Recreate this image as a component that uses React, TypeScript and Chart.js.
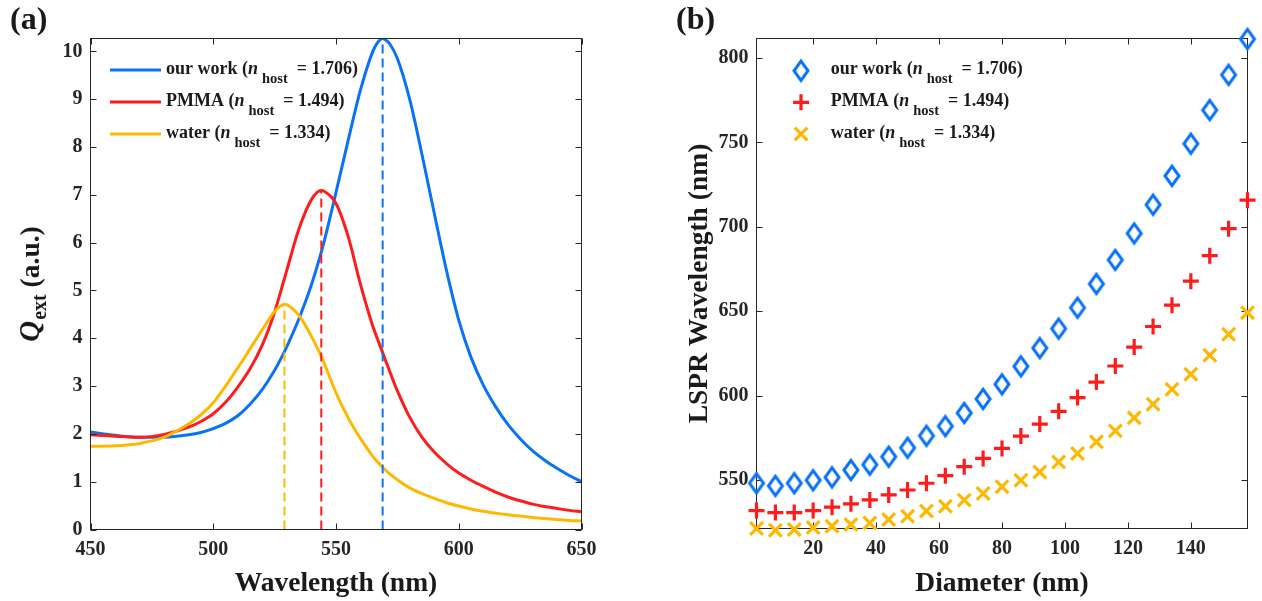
import React, { useEffect, useRef } from 'react';
import { Chart, registerables } from 'chart.js';

Chart.register(...registerables);

const FAMILY = '"Liberation Serif", "Times New Roman", "DejaVu Serif", serif';
const AXIS_COLOR = '#262626';
const TEXT_COLOR = '#1a1a1a';
const BLUE = '#0A72F6';
const RED = '#FF1C1C';
const GOLD = '#FFB800';
const TICK_LEN = 6;

// ---- (a) extinction spectra ----
const wavelength = [
  450, 460, 470, 480, 490, 495, 500, 505, 510, 515, 520, 525, 529, 530, 535, 540, 544, 545, 550, 555,
  560, 565, 567, 569, 570, 572, 575, 580, 585, 590, 595, 600, 605, 610, 615, 620, 625, 630, 635, 640,
  645, 650,
];
const qOurWork = [
  2.04, 1.97, 1.93, 1.93, 1.98, 2.03, 2.11, 2.22, 2.38, 2.62, 2.93, 3.33, 3.72, 3.83, 4.42, 5.12, 5.8, 5.99, 7.05, 8.15,
  9.2, 10.0, 10.19, 10.27, 10.25, 10.15, 9.85, 9.0, 7.85, 6.62, 5.42, 4.38, 3.6, 3.02, 2.57, 2.2, 1.9, 1.65, 1.45, 1.28,
  1.13, 1.0,
];
const qPmma = [
  1.98, 1.95, 1.93, 1.99, 2.14, 2.26, 2.42, 2.66, 2.98, 3.36, 3.86, 4.55, 5.25, 5.43, 6.3, 6.9, 7.09, 7.08, 6.82, 6.12,
  5.12, 4.25, 3.97, 3.7, 3.56, 3.29, 2.9, 2.35, 1.93, 1.62, 1.38, 1.18, 1.03, 0.9, 0.78, 0.68, 0.6, 0.53, 0.48, 0.44,
  0.4, 0.37,
];
const qWater = [
  1.74, 1.75, 1.8, 1.93, 2.21, 2.4, 2.65, 3.0, 3.38, 3.78, 4.18, 4.56, 4.71, 4.7, 4.47, 4.04, 3.62, 3.5, 2.86, 2.33,
  1.9, 1.53, 1.41, 1.3, 1.25, 1.16, 1.04, 0.87, 0.75, 0.65, 0.56, 0.49, 0.43, 0.38, 0.34, 0.31, 0.28, 0.25, 0.23, 0.21,
  0.19, 0.18,
];
// resonance peaks (our work, PMMA, water)
const peakWavelength = [569, 544, 529];
const peakQ = [10.27, 7.09, 4.71];
const wavelengthTicks = [450, 500, 550, 600, 650];
const qTicks = [0, 1, 2, 3, 4, 5, 6, 7, 8, 9, 10];

// ---- (b) LSPR wavelength vs diameter ----
const diameter = [2, 8, 14, 20, 26, 32, 38, 44, 50, 56, 62, 68, 74, 80, 86, 92, 98, 104, 110, 116, 122, 128, 134, 140, 146, 152, 158];
const lsprOurWork = [
  548.2, 546.6, 548.2, 550, 551.7, 556, 559.2, 563.9, 569.2, 576.3, 582, 589.8, 598.1, 606.8, 617.4, 628.2, 639.7, 652.1,
  666.2, 680.4, 696.1, 713.1, 730.2, 749.2, 769.1, 790, 811.2,
];
const lsprPmma = [
  532, 530.8, 530.8, 532, 534, 536, 538.3, 541.3, 544.2, 548.2, 552.7, 558, 562.9, 568.8, 576.1, 583.2, 590.8, 598.9,
  608.1, 617.6, 628.8, 641, 653.6, 667.8, 682.9, 698.9, 715.8,
];
const lsprWater = [
  521.4, 520.4, 520.8, 522, 522.8, 523.8, 524.7, 526.7, 528.7, 531.7, 534.6, 538.2, 542.1, 546.1, 550, 554.9, 560.8, 565.8,
  572.7, 579.2, 586.9, 595, 603.8, 612.7, 624, 636.4, 649.2,
];
const diameterTicks = [20, 40, 60, 80, 100, 120, 140];
const lsprTicks = [550, 600, 650, 700, 750, 800];

const seriesNames = ['our work', 'PMMA', 'water'];
const nHost = ['1.706', '1.494', '1.334'];
const seriesColors = [BLUE, RED, GOLD];

const font = (size: number, italic = false) => `${italic ? 'italic ' : ''}bold ${size}px ${FAMILY}`;

type Run = { text: string; font: string; dy?: number; gap?: number };

function runsWidth(ctx: CanvasRenderingContext2D, runs: Run[]) {
  let w = 0;
  for (const r of runs) {
    ctx.font = r.font;
    w += (r.gap || 0) + ctx.measureText(r.text).width;
  }
  return w;
}

function drawRuns(ctx: CanvasRenderingContext2D, runs: Run[], x: number, y: number) {
  let cx = x;
  for (const r of runs) {
    cx += r.gap || 0;
    ctx.font = r.font;
    ctx.fillText(r.text, cx, y + (r.dy || 0));
    cx += ctx.measureText(r.text).width;
  }
}

function legendRuns(i: number): Run[] {
  return [
    { text: `${seriesNames[i]} (`, font: font(18) },
    { text: 'n', font: font(18, true) },
    { text: 'host', font: font(14.5), dy: 9, gap: 4 },
    { text: `= ${nHost[i]})`, font: font(18), gap: 9 },
  ];
}

function drawFrame(chart: any, xTicks: number[], yTicks: number[]) {
  const { ctx, chartArea } = chart;
  const { left, right, top, bottom } = chartArea;
  const xs = chart.scales.x;
  const ys = chart.scales.y;
  ctx.save();
  ctx.strokeStyle = AXIS_COLOR;
  ctx.lineWidth = 1;
  ctx.strokeRect(left, top, right - left, bottom - top);
  ctx.beginPath();
  for (const v of xTicks) {
    const px = Math.round(xs.getPixelForValue(v)) + 0.5;
    ctx.moveTo(px, bottom);
    ctx.lineTo(px, bottom - TICK_LEN);
    ctx.moveTo(px, top);
    ctx.lineTo(px, top + TICK_LEN);
  }
  for (const v of yTicks) {
    const py = Math.round(ys.getPixelForValue(v)) + 0.5;
    ctx.moveTo(left, py);
    ctx.lineTo(left + TICK_LEN, py);
    ctx.moveTo(right, py);
    ctx.lineTo(right - TICK_LEN, py);
  }
  ctx.stroke();
  ctx.restore();
}

function drawRotatedTitle(ctx: CanvasRenderingContext2D, runs: Run[], baseX: number, centerY: number) {
  const w = runsWidth(ctx, runs);
  ctx.save();
  ctx.translate(baseX, centerY);
  ctx.rotate(-Math.PI / 2);
  ctx.textAlign = 'left';
  ctx.textBaseline = 'alphabetic';
  drawRuns(ctx, runs, -w / 2, 0);
  ctx.restore();
}

function drawCenteredTitle(ctx: CanvasRenderingContext2D, text: string, cx: number, baseY: number) {
  ctx.save();
  ctx.font = font(27.5);
  ctx.textAlign = 'center';
  ctx.textBaseline = 'alphabetic';
  ctx.fillText(text, cx, baseY);
  ctx.restore();
}

// tall open diamond used as the "our work" marker
function makeDiamond(color: string) {
  const c = document.createElement('canvas');
  c.width = 22;
  c.height = 28;
  const g = c.getContext('2d')!;
  g.strokeStyle = color;
  g.lineWidth = 3;
  g.lineJoin = 'miter';
  g.beginPath();
  g.moveTo(11, 4.3);
  g.lineTo(18, 14);
  g.lineTo(11, 23.7);
  g.lineTo(4, 14);
  g.closePath();
  g.stroke();
  return c;
}

const tickFont = { family: FAMILY, size: 20, weight: 'bold' as const };

function axisX(min: number, max: number, ticks: number[], height: number) {
  return {
    type: 'linear' as const,
    min,
    max,
    afterBuildTicks: (s: any) => {
      s.ticks = ticks.map((value) => ({ value }));
    },
    afterFit: (s: any) => {
      s.height = height;
    },
    grid: { display: false, drawTicks: false },
    border: { display: false },
    ticks: { font: tickFont, color: AXIS_COLOR, padding: 8, maxRotation: 0, autoSkip: false },
  };
}

function axisY(min: number, max: number, ticks: number[], width: number) {
  return {
    type: 'linear' as const,
    min,
    max,
    afterBuildTicks: (s: any) => {
      s.ticks = ticks.map((value) => ({ value }));
    },
    afterFit: (s: any) => {
      s.width = width;
    },
    grid: { display: false, drawTicks: false },
    border: { display: false },
    ticks: { font: tickFont, color: AXIS_COLOR, padding: 8, autoSkip: false },
  };
}

const CANVAS_W = 631;
const CANVAS_H = 601;

function spectraChart(canvas: HTMLCanvasElement) {
  const curve = (values: number[], color: string) => ({
    data: wavelength.map((x, i) => ({ x, y: values[i] })),
    showLine: true,
    borderColor: color,
    backgroundColor: color,
    borderWidth: 3,
    pointRadius: 0,
    cubicInterpolationMode: 'monotone' as const,
  });
  const marker = (i: number) => ({
    data: [
      { x: peakWavelength[i], y: 0 },
      { x: peakWavelength[i], y: peakQ[i] },
    ],
    showLine: true,
    borderColor: seriesColors[i],
    borderWidth: 2,
    borderDash: [9, 5],
    pointRadius: 0,
  });

  const overlay = {
    id: 'spectraOverlay',
    afterDraw(chart: any) {
      const { ctx } = chart;
      drawFrame(chart, wavelengthTicks, qTicks);
      ctx.save();
      ctx.fillStyle = TEXT_COLOR;
      ctx.textBaseline = 'alphabetic';
      ctx.textAlign = 'left';
      // legend
      for (let i = 0; i < 3; i++) {
        const y = 70 + 32 * i;
        ctx.strokeStyle = seriesColors[i];
        ctx.lineWidth = 3;
        ctx.beginPath();
        ctx.moveTo(110, y);
        ctx.lineTo(161, y);
        ctx.stroke();
        drawRuns(ctx, legendRuns(i), 166, y + 4);
      }
      // panel label
      ctx.font = font(32);
      ctx.fillText('(a)', 10, 29);
      ctx.restore();
      ctx.save();
      ctx.fillStyle = TEXT_COLOR;
      drawCenteredTitle(ctx, 'Wavelength (nm)', (chart.chartArea.left + chart.chartArea.right) / 2, 590.5);
      drawRotatedTitle(
        ctx,
        [
          { text: 'Q', font: font(29, true) },
          { text: 'ext', font: font(20), dy: 7, gap: 1 },
          { text: ' (a.u.)', font: font(27.5) },
        ],
        39,
        (chart.chartArea.top + chart.chartArea.bottom) / 2,
      );
      ctx.restore();
    },
  };

  return new Chart(canvas, {
    type: 'scatter',
    data: {
      datasets: [marker(0), marker(1), marker(2), curve(qWater, GOLD), curve(qPmma, RED), curve(qOurWork, BLUE)],
    },
    options: {
      animation: false,
      responsive: false,
      events: [],
      layout: { padding: { left: 0, top: 38.5, right: CANVAS_W - 581.5, bottom: 0 } },
      plugins: { legend: { display: false }, tooltip: { enabled: false } },
      scales: {
        x: axisX(450, 650, wavelengthTicks, CANVAS_H - 529.5),
        y: axisY(0, 10.27, qTicks, 90.5),
      },
    },
    plugins: [overlay],
  } as any);
}

function lsprChart(canvas: HTMLCanvasElement) {
  const diamond = makeDiamond(BLUE);
  const series = (values: number[], extra: any) => ({
    data: diameter.map((x, i) => ({ x, y: values[i] })),
    showLine: false,
    clip: false,
    backgroundColor: 'rgba(0,0,0,0)',
    ...extra,
  });

  const drawPlus = (ctx: CanvasRenderingContext2D, x: number, y: number) => {
    ctx.strokeStyle = RED;
    ctx.lineWidth = 3.2;
    ctx.beginPath();
    ctx.moveTo(x - 8, y);
    ctx.lineTo(x + 8, y);
    ctx.moveTo(x, y - 8);
    ctx.lineTo(x, y + 8);
    ctx.stroke();
  };
  const drawCross = (ctx: CanvasRenderingContext2D, x: number, y: number) => {
    const d = 9 * Math.SQRT1_2;
    ctx.strokeStyle = GOLD;
    ctx.lineWidth = 3.2;
    ctx.beginPath();
    ctx.moveTo(x - d, y - d);
    ctx.lineTo(x + d, y + d);
    ctx.moveTo(x - d, y + d);
    ctx.lineTo(x + d, y - d);
    ctx.stroke();
  };

  const overlay = {
    id: 'lsprOverlay',
    beforeDatasetsDraw(chart: any) {
      drawFrame(chart, diameterTicks, lsprTicks);
    },
    afterDraw(chart: any) {
      const { ctx } = chart;
      ctx.save();
      ctx.fillStyle = TEXT_COLOR;
      ctx.textBaseline = 'alphabetic';
      ctx.textAlign = 'left';
      const mx = 801 - 631;
      const rows = [70.7, 102.3, 134];
      ctx.drawImage(diamond, mx - diamond.width / 2, rows[0] - diamond.height / 2);
      drawPlus(ctx, mx, rows[1]);
      drawCross(ctx, mx, rows[2]);
      for (let i = 0; i < 3; i++) {
        drawRuns(ctx, legendRuns(i), 830.7 - 631, rows[i] + 3.5);
      }
      ctx.font = font(32);
      ctx.fillText('(b)', 676 - 631, 29);
      ctx.restore();
      ctx.save();
      ctx.fillStyle = TEXT_COLOR;
      drawCenteredTitle(ctx, 'Diameter (nm)', (chart.chartArea.left + chart.chartArea.right) / 2, 590.5);
      drawRotatedTitle(
        ctx,
        [{ text: 'LSPR Wavelength (nm)', font: font(27.5) }],
        706.5 - 631,
        (chart.chartArea.top + chart.chartArea.bottom) / 2,
      );
      ctx.restore();
    },
  };

  return new Chart(canvas, {
    type: 'scatter',
    data: {
      datasets: [
        series(lsprOurWork, { pointStyle: diamond, pointRadius: 9, borderColor: BLUE, borderWidth: 3 }),
        series(lsprPmma, { pointStyle: 'cross', pointRadius: 8, borderColor: RED, borderWidth: 3.2 }),
        series(lsprWater, { pointStyle: 'crossRot', pointRadius: 9, borderColor: GOLD, borderWidth: 3.2 }),
      ],
    },
    options: {
      animation: false,
      responsive: false,
      events: [],
      layout: { padding: { left: 0, top: 38.5, right: CANVAS_W - (1247.5 - 631), bottom: 0 } },
      plugins: { legend: { display: false }, tooltip: { enabled: false } },
      scales: {
        x: axisX(2, 158, diameterTicks, CANVAS_H - 528.5),
        y: axisY(521.4, 811.5, lsprTicks, 756.5 - 631),
      },
    },
    plugins: [overlay],
  } as any);
}

export default function App() {
  const refA = useRef<HTMLCanvasElement>(null);
  const refB = useRef<HTMLCanvasElement>(null);

  useEffect(() => {
    const a = spectraChart(refA.current!);
    const b = lsprChart(refB.current!);
    return () => {
      a.destroy();
      b.destroy();
    };
  }, []);

  return (
    <div style={{ position: 'fixed', left: 0, top: 0, width: 1262, height: 601, background: '#ffffff' }}>
      <canvas
        ref={refA}
        width={CANVAS_W}
        height={CANVAS_H}
        style={{ position: 'absolute', left: 0, top: 0, width: CANVAS_W, height: CANVAS_H }}
      />
      <canvas
        ref={refB}
        width={CANVAS_W}
        height={CANVAS_H}
        style={{ position: 'absolute', left: CANVAS_W, top: 0, width: CANVAS_W, height: CANVAS_H }}
      />
    </div>
  );
}
